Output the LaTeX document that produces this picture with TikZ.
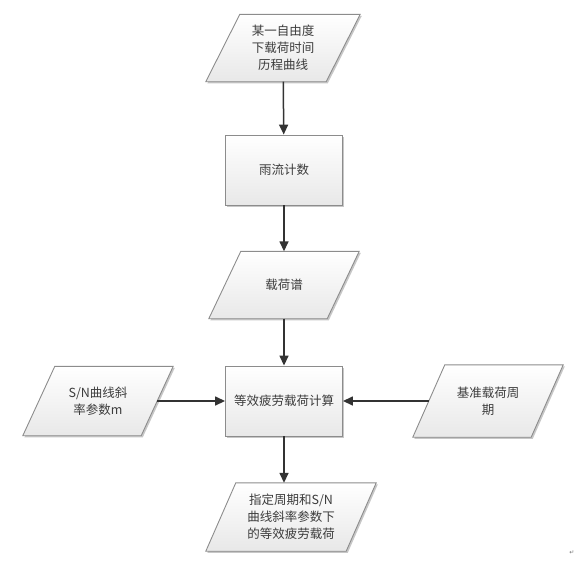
\documentclass[tikz,border=0pt]{standalone}
\usepackage{fontspec}
\newfontfamily\cjk{Noto Sans CJK SC}
\newfontfamily\dejavu{DejaVu Sans}
\usetikzlibrary{arrows.meta,shadows,backgrounds}
\definecolor{edgegray}{HTML}{8C8C8C}
\definecolor{arrowgray}{HTML}{333333}
\definecolor{txtgray}{HTML}{3C3C3C}
\tikzset{
  shapefill/.style={draw=edgegray, line width=0.9pt, top color=white, bottom color=black!9,
    drop shadow={shadow xshift=1.6pt, shadow yshift=-1.6pt, opacity=0.22, fill=black}},
  txt/.style={font=\cjk\fontsize{12.5}{17}\selectfont, text=txtgray, align=center, inner sep=0pt},
  rectbox/.style={txt, shapefill, minimum width=117pt, minimum height=70pt},
  parabox/.style={txt, minimum width=#1},
  arr/.style={draw=arrowgray, line width=1.5pt, -{Triangle[length=10pt,width=9pt]}},
}
\newcommand\paradraw[2]{\path[shapefill] ([xshift=#2]#1.north west) -- ([xshift=#2]#1.north east) -- ([xshift=-#2]#1.south east) -- ([xshift=-#2]#1.south west) -- cycle;}
\begin{document}
\begin{tikzpicture}[x=1pt,y=-1pt]
\useasboundingbox (0,0) rectangle (578,563);
\node[parabox=120pt, minimum height=67pt] (A) at (283,48) {某一自由度\\下载荷时间\\历程曲线};
\node[rectbox] (B) at (284,170) {雨流计数};
\node[parabox=118pt, minimum height=67pt] (C) at (284,285) {载荷谱};
\node[parabox=118pt, minimum height=69pt] (L) at (98,401) {S/N曲线斜\\率参数m};
\node[rectbox] (D) at (284,401) {等效疲劳载荷计算};
\node[parabox=118pt, minimum height=72pt] (R) at (488,401) {基准载荷周\\期};
\node[parabox=140pt, minimum height=68pt] (E) at (291,517) {指定周期和S/N\\曲线斜率参数下\\的等效疲劳载荷};
\node[font=\dejavu\fontsize{6}{6}\selectfont, text=black!55] (ret) at (572,553) {↵};
\begin{scope}[on background layer]
\paradraw{A}{17pt}
\paradraw{C}{16pt}
\paradraw{L}{16pt}
\paradraw{R}{16pt}
\paradraw{E}{15pt}
\end{scope}
\draw[arr] (A) -- (B);
\draw[arr] (B) -- (C);
\draw[arr] (C) -- (D);
\draw[arr] (L) -- (D);
\draw[arr] (R) -- (D);
\draw[arr] (D.south) -- (D.south |- E.north);
\end{tikzpicture}
\end{document}
